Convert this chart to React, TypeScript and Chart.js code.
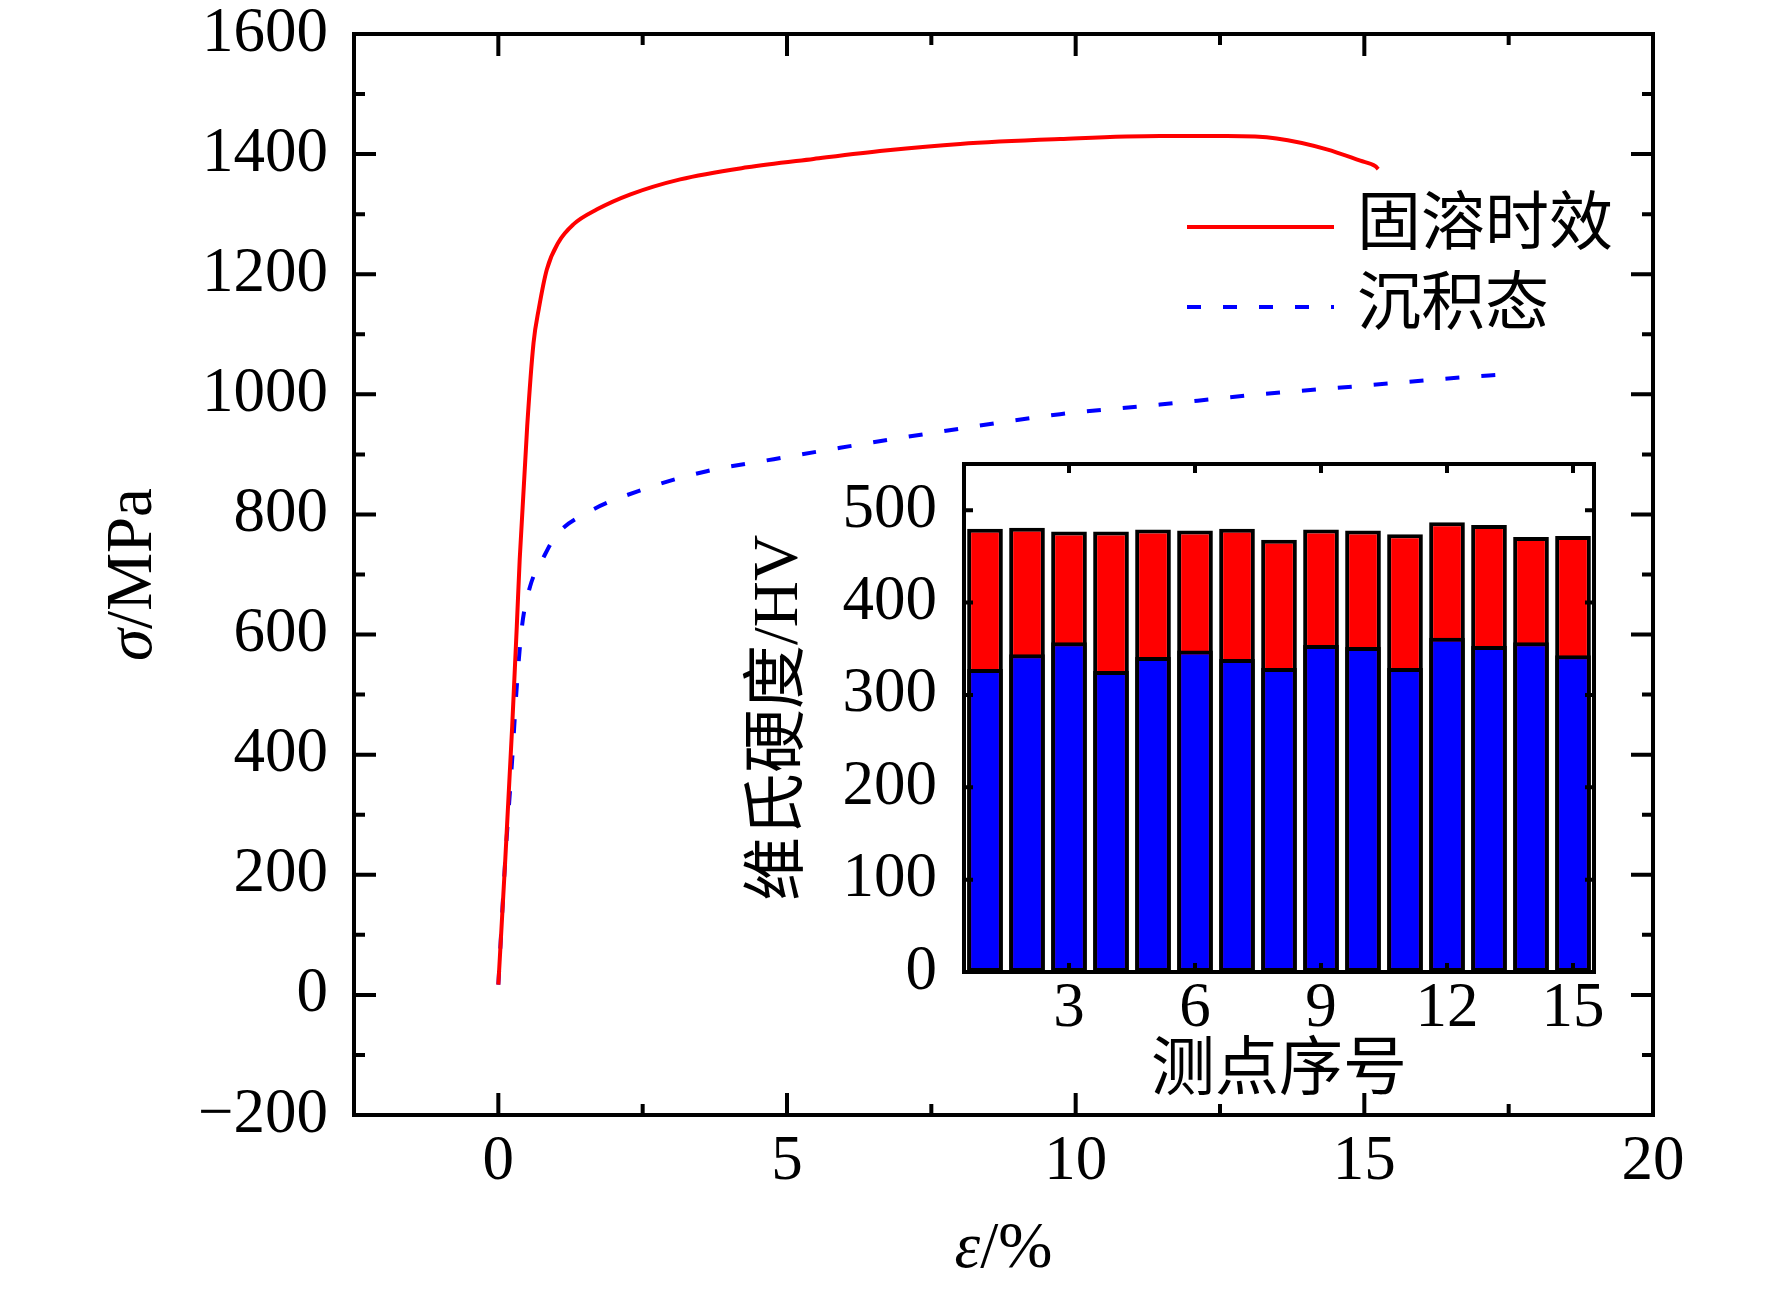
import React, { useEffect, useRef } from 'react';
import { Chart, registerables } from 'chart.js';

Chart.register(...registerables);

// stress-strain curves
const agedStrain = [0, 0.12, 0.24, 0.32, 0.37, 0.5, 0.61, 0.7, 0.84, 1.04, 1.3, 1.71, 2.29, 3.15, 4.31, 5.46, 6.7, 8.0, 9.73, 11.46, 12.62, 13.48, 14.35, 14.93, 15.19, 15.24];
const agedStress = [17, 225, 447, 614, 725, 947, 1086, 1142, 1208, 1253, 1283, 1308, 1333, 1358, 1378, 1392, 1406, 1417, 1425, 1430, 1430, 1426, 1408, 1389, 1380, 1375];
const depositedStrain = [0, 0.12, 0.24, 0.32, 0.41, 0.55, 0.78, 1.0, 1.54, 2.52, 3.61, 4.77, 5.92, 7.6, 9.73, 11.46, 13.19, 14.93, 16.66, 17.4];
const depositedStress = [17, 225, 392, 514, 614, 680, 728, 765, 803, 842, 872, 892, 911, 937, 967, 983, 1000, 1014, 1028, 1033];

const strainTicks = [0, 5, 10, 15, 20];
const strainMinor = [2.5, 7.5, 12.5, 17.5];
const stressTicks = [-200, 0, 200, 400, 600, 800, 1000, 1200, 1400, 1600];
const stressMinor = [-100, 100, 300, 500, 700, 900, 1100, 1300, 1500];

// axis titles with the italic symbol kept apart
const strainTitle = [{ text: 'ε', italic: true }, { text: '/%', italic: false }];
const stressTitle = [{ text: 'σ', italic: true }, { text: '/MPa', italic: false }];

// inset: Vickers hardness per measuring point
const pointNo = [1, 2, 3, 4, 5, 6, 7, 8, 9, 10, 11, 12, 13, 14, 15];
const agedHV = [480, 481, 477, 477, 479, 478, 480, 468, 479, 478, 474, 487, 484, 471, 472];
const depositedHV = [328, 344, 357, 326, 341, 348, 339, 329, 354, 352, 329, 362, 353, 357, 343];
const pointTicks = [3, 6, 9, 12, 15];
const hvTicks = [0, 100, 200, 300, 400, 500];

const FONT = '"Liberation Serif", "Noto Sans CJK SC", serif';
const tickFont = { family: FONT, size: 63, lineHeight: 1 };
const titleFont = { family: FONT, size: 64, lineHeight: 1.2 };

const fmt = (v: number | string) => String(v).replace('-', '\u2212');

// box frame with inward tick marks on all four sides
const framePlugin = {
  id: 'frame',
  afterDatasetsDraw(chart: any, _args: any, opts: any) {
    const { ctx, chartArea: a, scales } = chart;
    const sx = scales.x;
    const sy = scales.y;
    ctx.save();
    ctx.strokeStyle = '#000';
    ctx.lineWidth = opts.lineWidth;
    ctx.lineCap = 'butt';
    ctx.beginPath();
    const xMarks = (vals: number[], len: number) => {
      vals.forEach((v) => {
        const px = sx.getPixelForValue(v);
        ctx.moveTo(px, a.bottom);
        ctx.lineTo(px, a.bottom - len);
        ctx.moveTo(px, a.top);
        ctx.lineTo(px, a.top + len);
      });
    };
    const yMarks = (vals: number[], len: number) => {
      vals.forEach((v) => {
        const py = sy.getPixelForValue(v);
        ctx.moveTo(a.left, py);
        ctx.lineTo(a.left + len, py);
        ctx.moveTo(a.right, py);
        ctx.lineTo(a.right - len, py);
      });
    };
    xMarks(opts.xMajor || [], opts.majorLen);
    xMarks(opts.xMinor || [], opts.minorLen);
    yMarks(opts.yMajor || [], opts.majorLen);
    yMarks(opts.yMinor || [], opts.minorLen);
    ctx.stroke();
    ctx.strokeRect(a.left, a.top, a.right - a.left, a.bottom - a.top);
    ctx.restore();
  },
};

// line-sample legend
const lineLegendPlugin = {
  id: 'lineLegend',
  afterDraw(chart: any, _args: any, opts: any) {
    const { ctx } = chart;
    ctx.save();
    ctx.font = `${opts.fontSize}px ${FONT}`;
    ctx.textBaseline = 'middle';
    ctx.textAlign = 'left';
    chart.data.datasets.forEach((ds: any, i: number) => {
      const y = opts.top + i * opts.rowGap;
      ctx.strokeStyle = ds.borderColor;
      ctx.lineWidth = ds.borderWidth;
      ctx.setLineDash(ds.borderDash || []);
      ctx.beginPath();
      ctx.moveTo(opts.lineStart, y);
      ctx.lineTo(opts.lineEnd, y);
      ctx.stroke();
      ctx.setLineDash([]);
      ctx.fillStyle = '#000';
      ctx.fillText(ds.label, opts.textX, y);
    });
    ctx.restore();
  },
};

type Part = { text: string; italic: boolean };

// axis titles mixing italic and upright runs
const axisTitlePlugin = {
  id: 'axisTitles',
  afterDraw(chart: any, _args: any, opts: any) {
    const { ctx, chartArea: a, scales } = chart;
    const draw = (parts: Part[], cx: number, cy: number, rotate: boolean) => {
      ctx.save();
      ctx.translate(cx, cy);
      if (rotate) ctx.rotate(-Math.PI / 2);
      ctx.textBaseline = 'middle';
      ctx.textAlign = 'left';
      ctx.fillStyle = '#000';
      const fonts = parts.map((p) => `${p.italic ? 'italic ' : ''}${opts.fontSize}px ${FONT}`);
      const widths = parts.map((p, i) => {
        ctx.font = fonts[i];
        return ctx.measureText(p.text).width;
      });
      let x = -widths.reduce((s, w) => s + w, 0) / 2;
      parts.forEach((p, i) => {
        ctx.font = fonts[i];
        ctx.fillText(p.text, x, 0);
        x += widths[i];
      });
      ctx.restore();
    };
    draw(strainTitle, (a.left + a.right) / 2, scales.x.bottom - opts.xOffset, false);
    draw(stressTitle, scales.y.left + opts.yOffset, (a.top + a.bottom) / 2, true);
  },
};

const zeroPadding = (s: any) => {
  s.paddingTop = 0;
  s.paddingBottom = 0;
  s.paddingLeft = 0;
  s.paddingRight = 0;
};

const StressStrainChart: React.FC = () => {
  const chartRef = useRef<HTMLCanvasElement | null>(null);
  const chartInstance = useRef<Chart | null>(null);

  useEffect(() => {
    if (chartInstance.current) chartInstance.current.destroy();
    const ctx = chartRef.current?.getContext('2d');
    if (!ctx) return;

    chartInstance.current = new Chart(ctx, {
      type: 'line',
      data: {
        datasets: [
          {
            label: '固溶时效',
            data: agedStrain.map((x, i) => ({ x, y: agedStress[i] })),
            borderColor: '#ff0000',
            borderWidth: 4,
            pointRadius: 0,
            cubicInterpolationMode: 'monotone',
            fill: false,
          },
          {
            label: '沉积态',
            data: depositedStrain.map((x, i) => ({ x, y: depositedStress[i] })),
            borderColor: '#0000ff',
            borderWidth: 4,
            borderDash: [14, 22],
            pointRadius: 0,
            cubicInterpolationMode: 'monotone',
            fill: false,
          },
        ],
      } as any,
      options: {
        responsive: false,
        animation: false,
        devicePixelRatio: 1,
        layout: { padding: { left: 0, top: 34, right: 119, bottom: 0 } },
        plugins: {
          legend: { display: false },
          tooltip: { enabled: false },
          frame: {
            xMajor: strainTicks,
            xMinor: strainMinor,
            yMajor: stressTicks,
            yMinor: stressMinor,
            majorLen: 22,
            minorLen: 11,
            lineWidth: 4,
          },
          lineLegend: { top: 227, rowGap: 80, lineStart: 1187, lineEnd: 1334, textX: 1357, fontSize: 64 },
          axisTitles: { fontSize: 65, xOffset: 42, yOffset: 134 },
        } as any,
        scales: {
          x: {
            type: 'linear',
            min: -2.5,
            max: 20,
            grid: { display: false, drawTicks: false },
            border: { display: false },
            ticks: { font: tickFont, color: '#000', padding: 16, autoSkip: false, maxRotation: 0, callback: (v: any) => fmt(v) },
            afterBuildTicks: (s: any) => { s.ticks = strainTicks.map((value) => ({ value })); },
            afterFit: (s: any) => { s.height = 177; zeroPadding(s); },
          },
          y: {
            type: 'linear',
            min: -200,
            max: 1600,
            grid: { display: false, drawTicks: false },
            border: { display: false },
            ticks: { font: tickFont, color: '#000', padding: 26, autoSkip: false, callback: (v: any) => fmt(v) },
            afterBuildTicks: (s: any) => { s.ticks = stressTicks.map((value) => ({ value })); },
            afterFit: (s: any) => { s.width = 354; zeroPadding(s); },
          },
        },
      } as any,
      plugins: [framePlugin, lineLegendPlugin, axisTitlePlugin],
    });

    return () => {
      if (chartInstance.current) {
        chartInstance.current.destroy();
        chartInstance.current = null;
      }
    };
  }, []);

  return (
    <canvas
      ref={chartRef}
      width={1772}
      height={1292}
      style={{ position: 'absolute', left: 0, top: 0, width: 1772, height: 1292 }}
    />
  );
};

const HardnessInset: React.FC = () => {
  const chartRef = useRef<HTMLCanvasElement | null>(null);
  const chartInstance = useRef<Chart | null>(null);

  useEffect(() => {
    if (chartInstance.current) chartInstance.current.destroy();
    const ctx = chartRef.current?.getContext('2d');
    if (!ctx) return;

    chartInstance.current = new Chart(ctx, {
      type: 'bar',
      data: {
        datasets: [
          {
            label: '沉积态',
            data: pointNo.map((x, i) => ({ x, y: depositedHV[i] })),
            backgroundColor: '#0000ff',
            borderColor: '#000',
            borderWidth: 4,
            borderSkipped: false,
            categoryPercentage: 1,
            barPercentage: 0.85,
          },
          {
            label: '固溶时效',
            data: pointNo.map((x, i) => ({ x, y: agedHV[i] })),
            backgroundColor: '#ff0000',
            borderColor: '#000',
            borderWidth: 4,
            borderSkipped: false,
            categoryPercentage: 1,
            barPercentage: 0.85,
          },
        ],
      } as any,
      options: {
        responsive: false,
        animation: false,
        devicePixelRatio: 1,
        layout: { padding: { left: 0, top: 64, right: 46, bottom: 0 } },
        plugins: {
          legend: { display: false },
          tooltip: { enabled: false },
          frame: { xMajor: pointTicks, yMajor: hvTicks, majorLen: 9, minorLen: 0, lineWidth: 4 },
        } as any,
        scales: {
          x: {
            type: 'linear',
            min: 0.5,
            max: 15.5,
            stacked: true,
            offset: false,
            grid: { display: false, drawTicks: false },
            border: { display: false },
            ticks: { font: tickFont, color: '#000', padding: 6, autoSkip: false, maxRotation: 0 },
            afterBuildTicks: (s: any) => { s.ticks = pointTicks.map((value) => ({ value })); },
            afterFit: (s: any) => { s.height = 143; zeroPadding(s); },
            title: { display: true, text: '测点序号', font: titleFont, color: '#000', padding: { top: 4, bottom: 4 } },
          },
          y: {
            type: 'linear',
            min: 0,
            max: 550,
            stacked: false,
            grid: { display: false, drawTicks: false },
            border: { display: false },
            ticks: { font: tickFont, color: '#000', padding: 27, autoSkip: false },
            afterBuildTicks: (s: any) => { s.ticks = hvTicks.map((value) => ({ value })); },
            afterFit: (s: any) => { s.width = 344; zeroPadding(s); },
            title: { display: true, text: '维氏硬度/HV', font: titleFont, color: '#000', padding: { top: 122, bottom: 122 } },
          },
        },
      } as any,
      plugins: [framePlugin],
    });

    return () => {
      if (chartInstance.current) {
        chartInstance.current.destroy();
        chartInstance.current = null;
      }
    };
  }, []);

  return (
    <canvas
      ref={chartRef}
      width={1020}
      height={715}
      style={{ position: 'absolute', left: 620, top: 400, width: 1020, height: 715 }}
    />
  );
};

export default function App() {
  return (
    <div style={{ position: 'absolute', left: 0, top: 0, width: 1772, height: 1292, background: '#fff', overflow: 'hidden' }}>
      <StressStrainChart />
      <HardnessInset />
    </div>
  );
}
